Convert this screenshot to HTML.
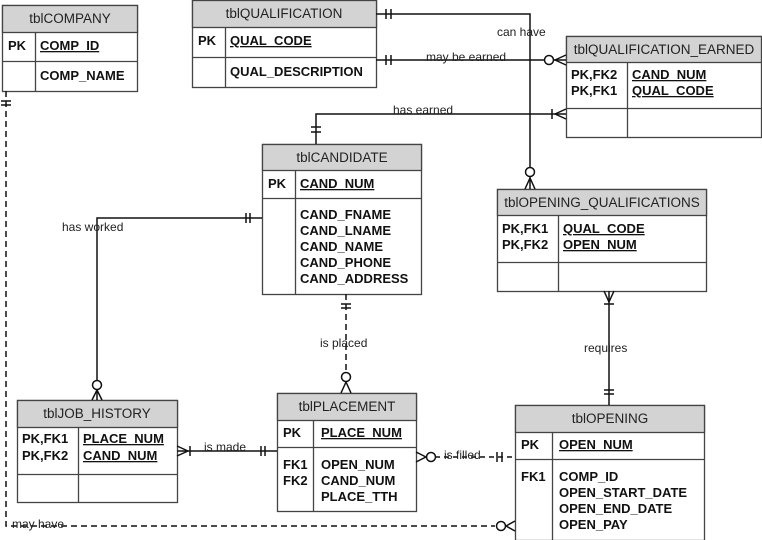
<!DOCTYPE html>
<html><head><meta charset="utf-8"><style>
html,body{margin:0;padding:0;background:#fff;}
svg{display:block;font-family:"Liberation Sans",Arial,sans-serif;}
.h{font-size:13.5px;fill:#222;text-anchor:middle;}
.f{font-size:13px;font-weight:bold;fill:#111;}
.l{font-size:12px;fill:#222;}
.u{text-decoration:underline;}
</style></head><body>
<svg width="762" height="540" viewBox="0 0 762 540" xmlns="http://www.w3.org/2000/svg">
<g stroke="#444" stroke-width="1.3" fill="#fff">
<rect x="2.5" y="5.5" width="135" height="86"/><rect x="2.5" y="5.5" width="135" height="27" fill="#d3d3d3"/>
<line x1="2.5" y1="61.5" x2="137.5" y2="61.5"/><line x1="35.5" y1="32.5" x2="35.5" y2="91.5"/>
<rect x="192.5" y="0.5" width="184" height="87"/><rect x="192.5" y="0.5" width="184" height="27" fill="#d3d3d3"/>
<line x1="192.5" y1="57.5" x2="376.5" y2="57.5"/><line x1="225.5" y1="27.5" x2="225.5" y2="87.5"/>
<rect x="566.5" y="36.5" width="195" height="101"/><rect x="566.5" y="36.5" width="195" height="26" fill="#d3d3d3"/>
<line x1="566.5" y1="108.5" x2="761.5" y2="108.5"/><line x1="627.5" y1="62.5" x2="627.5" y2="137.5"/>
<rect x="262.5" y="144.5" width="159" height="150"/><rect x="262.5" y="144.5" width="159" height="26" fill="#d3d3d3"/>
<line x1="262.5" y1="198.5" x2="421.5" y2="198.5"/><line x1="295.5" y1="170.5" x2="295.5" y2="294.5"/>
<rect x="497.5" y="189.5" width="209" height="102"/><rect x="497.5" y="189.5" width="209" height="26" fill="#d3d3d3"/>
<line x1="497.5" y1="262.5" x2="706.5" y2="262.5"/><line x1="558.5" y1="215.5" x2="558.5" y2="291.5"/>
<rect x="17.5" y="400.5" width="160" height="102"/><rect x="17.5" y="400.5" width="160" height="27" fill="#d3d3d3"/>
<line x1="17.5" y1="474.5" x2="177.5" y2="474.5"/><line x1="78.5" y1="427.5" x2="78.5" y2="502.5"/>
<rect x="277.5" y="393.5" width="139" height="118"/><rect x="277.5" y="393.5" width="139" height="27" fill="#d3d3d3"/>
<line x1="277.5" y1="447.5" x2="416.5" y2="447.5"/><line x1="313.5" y1="420.5" x2="313.5" y2="511.5"/>
<rect x="515.5" y="405.5" width="189" height="135"/><rect x="515.5" y="405.5" width="189" height="27" fill="#d3d3d3"/>
<line x1="515.5" y1="459.5" x2="704.5" y2="459.5"/><line x1="552.5" y1="432.5" x2="552.5" y2="540"/>
</g>
<g stroke="#111" stroke-width="1.5" fill="none">
<polyline points="376,14 530,14 530,189"/>
<line x1="386" y1="9" x2="386" y2="19"/><line x1="391" y1="9" x2="391" y2="19"/>
<circle cx="530" cy="172" r="4.5" fill="#fff"/><line x1="530" y1="178" x2="525" y2="189"/><line x1="530" y1="178" x2="535" y2="189"/>
<line x1="376" y1="60" x2="566" y2="60"/>
<line x1="386" y1="55" x2="386" y2="65"/><line x1="391" y1="55" x2="391" y2="65"/>
<circle cx="549" cy="60" r="4.5" fill="#fff"/><line x1="555" y1="60" x2="566" y2="55"/><line x1="555" y1="60" x2="566" y2="65"/>
<polyline points="316,144 316,114 566,114"/>
<line x1="311" y1="127" x2="321" y2="127"/><line x1="311" y1="132" x2="321" y2="132"/>
<line x1="552" y1="109" x2="552" y2="119"/><line x1="555" y1="114" x2="566" y2="109"/><line x1="555" y1="114" x2="566" y2="119"/>
<polyline points="262,218 97,218 97,400"/>
<line x1="246" y1="213" x2="246" y2="223"/><line x1="250" y1="213" x2="250" y2="223"/>
<circle cx="97" cy="385" r="4.5" fill="#fff"/><line x1="97" y1="390" x2="92" y2="400"/><line x1="97" y1="390" x2="102" y2="400"/>
<line x1="346" y1="294" x2="346" y2="370" stroke-dasharray="6,4"/>
<line x1="341" y1="304" x2="351" y2="304"/><line x1="341" y1="308" x2="351" y2="308"/>
<circle cx="346" cy="377" r="4.5" fill="#fff"/><line x1="346" y1="382" x2="341" y2="393"/><line x1="346" y1="382" x2="351" y2="393"/>
<line x1="177" y1="451" x2="277" y2="451"/>
<line x1="190" y1="446" x2="190" y2="456"/><line x1="188" y1="451" x2="177" y2="446"/><line x1="188" y1="451" x2="177" y2="456"/>
<line x1="261" y1="446" x2="261" y2="456"/><line x1="265" y1="446" x2="265" y2="456"/>
<line x1="435" y1="457" x2="515" y2="457" stroke-dasharray="5,4"/>
<circle cx="431" cy="457" r="4.5" fill="#fff"/><line x1="426" y1="457" x2="416" y2="452"/><line x1="426" y1="457" x2="416" y2="462"/>
<line x1="497" y1="452" x2="497" y2="462"/><line x1="502" y1="452" x2="502" y2="462"/>
<line x1="609" y1="291" x2="609" y2="405"/>
<line x1="604" y1="304" x2="614" y2="304"/><line x1="609" y1="302" x2="604" y2="291"/><line x1="609" y1="302" x2="614" y2="291"/>
<line x1="604" y1="390" x2="614" y2="390"/><line x1="604" y1="394" x2="614" y2="394"/>
<polyline points="6,91 6,526 495,526" stroke-dasharray="6,4"/>
<line x1="1" y1="101" x2="11" y2="101"/><line x1="1" y1="105" x2="11" y2="105"/>
<circle cx="501" cy="526" r="4.5" fill="#fff"/><line x1="506" y1="526" x2="515" y2="521"/><line x1="506" y1="526" x2="515" y2="531"/>
</g>
<text class="h" x="70" y="23">tblCOMPANY</text>
<text class="h" x="284" y="18">tblQUALIFICATION</text>
<text class="h" x="664" y="54">tblQUALIFICATION_EARNED</text>
<text class="h" x="342" y="162">tblCANDIDATE</text>
<text class="h" x="602" y="207">tblOPENING_QUALIFICATIONS</text>
<text class="h" x="97" y="418">tblJOB_HISTORY</text>
<text class="h" x="347" y="411">tblPLACEMENT</text>
<text class="h" x="610" y="423">tblOPENING</text>
<text class="f" x="8" y="50">PK</text><text class="f u" x="40" y="50">COMP_ID</text>
<text class="f" x="40" y="80">COMP_NAME</text>
<text class="f" x="198" y="45">PK</text><text class="f u" x="230" y="45">QUAL_CODE</text>
<text class="f" x="230" y="76">QUAL_DESCRIPTION</text>
<text class="f" x="571" y="79">PK,FK2</text><text class="f u" x="632" y="79">CAND_NUM</text>
<text class="f" x="571" y="95">PK,FK1</text><text class="f u" x="632" y="95">QUAL_CODE</text>
<text class="f" x="268" y="188">PK</text><text class="f u" x="300" y="188">CAND_NUM</text>
<text class="f" x="300" y="219">CAND_FNAME</text>
<text class="f" x="300" y="235">CAND_LNAME</text>
<text class="f" x="300" y="251">CAND_NAME</text>
<text class="f" x="300" y="267">CAND_PHONE</text>
<text class="f" x="300" y="283">CAND_ADDRESS</text>
<text class="f" x="502" y="233">PK,FK1</text><text class="f u" x="563" y="233">QUAL_CODE</text>
<text class="f" x="502" y="249">PK,FK2</text><text class="f u" x="563" y="249">OPEN_NUM</text>
<text class="f" x="22" y="443">PK,FK1</text><text class="f u" x="83" y="443">PLACE_NUM</text>
<text class="f" x="22" y="460">PK,FK2</text><text class="f u" x="83" y="460">CAND_NUM</text>
<text class="f" x="283" y="437">PK</text><text class="f u" x="321" y="437">PLACE_NUM</text>
<text class="f" x="283" y="469">FK1</text><text class="f" x="321" y="469">OPEN_NUM</text>
<text class="f" x="283" y="485">FK2</text><text class="f" x="321" y="485">CAND_NUM</text>
<text class="f" x="321" y="501">PLACE_TTH</text>
<text class="f" x="521" y="449">PK</text><text class="f u" x="559" y="449">OPEN_NUM</text>
<text class="f" x="521" y="481">FK1</text><text class="f" x="559" y="481">COMP_ID</text>
<text class="f" x="559" y="497">OPEN_START_DATE</text>
<text class="f" x="559" y="513">OPEN_END_DATE</text>
<text class="f" x="559" y="529">OPEN_PAY</text>
<text class="l" x="497" y="36">can have</text>
<text class="l" x="426" y="61">may be earned</text>
<text class="l" x="393" y="114">has earned</text>
<text class="l" x="62" y="231">has worked</text>
<text class="l" x="320" y="347">is placed</text>
<text class="l" x="584" y="352">requires</text>
<text class="l" x="204" y="451">is made</text>
<text class="l" x="444" y="459">is filled</text>
<text class="l" x="12" y="528">may have</text>
</svg>
</body></html>
